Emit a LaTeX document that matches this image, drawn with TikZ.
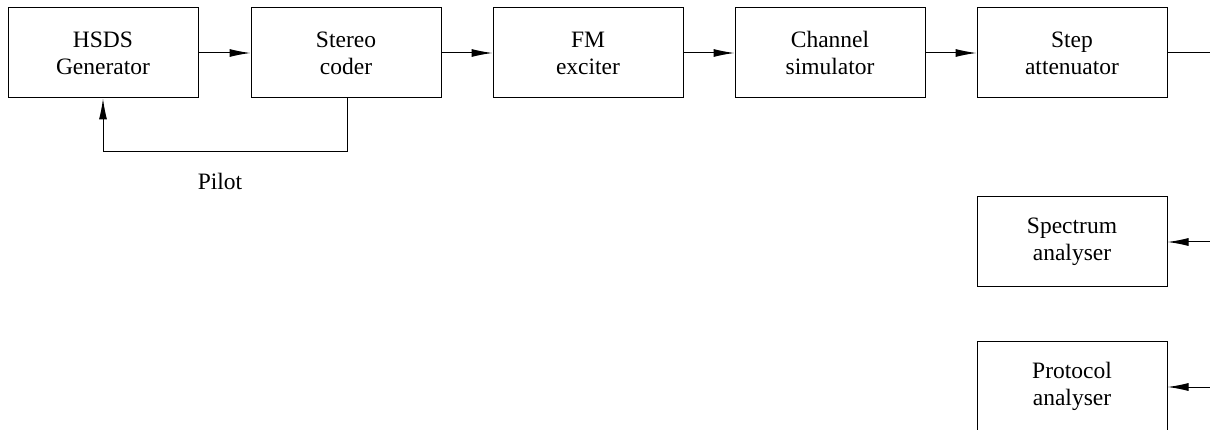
\documentclass[tikz,border=0pt]{standalone}
\usepackage{fontspec}
\setmainfont{Liberation Serif}
\usetikzlibrary{arrows.meta}
\begin{document}
\begin{tikzpicture}[x=1pt,y=-1pt,
  txt/.style={font=\fontsize{23.5}{27}\selectfont},
  blk/.style={txt, draw, line width=1pt, minimum width=190pt, minimum height=90pt, align=center, inner sep=0pt},
  conn/.style={line width=1pt, -{Latex[length=21pt,width=8pt]}},
  plain/.style={line width=1pt}]
\useasboundingbox (0,0) rectangle (1210,430);
\node[blk] (hsds) at (103,53) {HSDS\\Generator};
\node[blk] (stereo) at (346,53) {Stereo\\coder};
\node[blk] (fm) at (588,53) {FM\\exciter};
\node[blk] (chan) at (830,53) {Channel\\simulator};
\node[blk] (step) at (1072,53) {Step\\attenuator};
\node[blk] (spec) at (1072,242) {Spectrum\\analyser};
\node[blk] (proto) at (1072,386) {Protocol\\analyser};
\coordinate (outR) at (1212,53);
\coordinate (inS) at (1212,242);
\coordinate (inP) at (1212,387);
\draw[conn] (hsds) -- (stereo);
\draw[conn] (stereo) -- (fm);
\draw[conn] (fm) -- (chan);
\draw[conn] (chan) -- (step);
\draw[plain] (step) -- (outR);
\draw[conn] (inS) -- (spec.east |- inS);
\draw[conn] (inP) -- (proto.east |- inP);
\draw[conn] (stereo.south) ++(1,0) coordinate (fbs) -- ++(0,53) -| (hsds.south);
\node[txt] (pilot) at (220,181) {Pilot};
\end{tikzpicture}
\end{document}
